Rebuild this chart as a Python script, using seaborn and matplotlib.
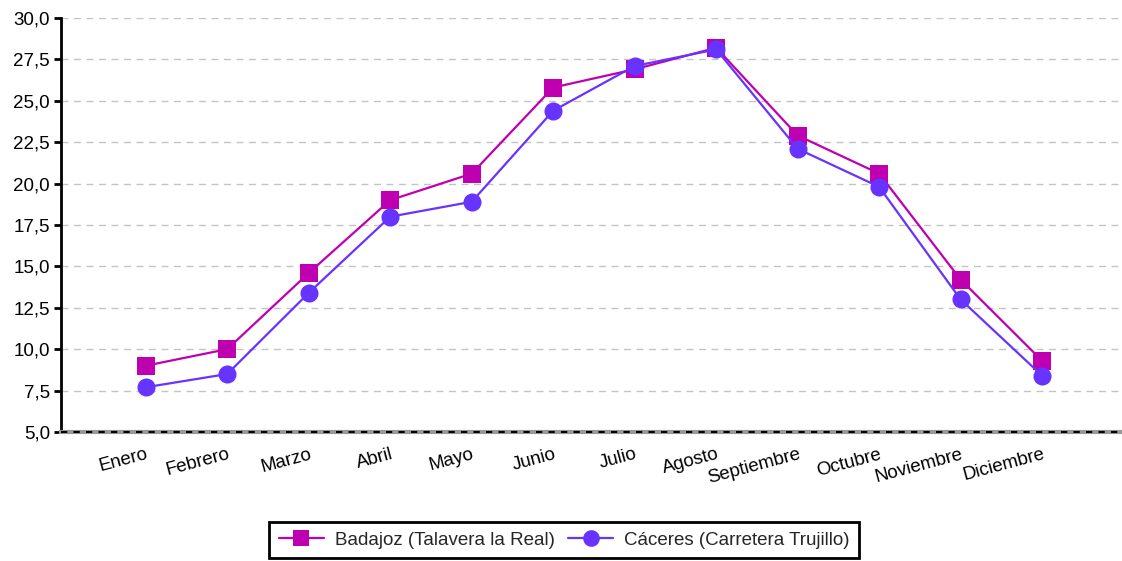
import matplotlib
matplotlib.use("Agg")
import matplotlib.pyplot as plt
import seaborn as sns
import pandas as pd
from matplotlib.ticker import FuncFormatter, MultipleLocator

months = ["Enero", "Febrero", "Marzo", "Abril", "Mayo", "Junio", "Julio",
          "Agosto", "Septiembre", "Octubre", "Noviembre", "Diciembre"]
badajoz = [9.0, 10.0, 14.6, 19.0, 20.6, 25.8, 26.9, 28.2, 22.9, 20.6, 14.2, 9.3]
caceres = [7.7, 8.5, 13.4, 18.0, 18.9, 24.4, 27.1, 28.1, 22.1, 19.8, 13.0, 8.4]
series_names = ["Badajoz (Talavera la Real)", "Cáceres (Carretera Trujillo)"]
colors = ["#BF00B0", "#6633FF"]

df = pd.DataFrame({
    "Mes": months * 2,
    "Temp": badajoz + caceres,
    "Serie": [series_names[0]] * 12 + [series_names[1]] * 12,
})

sns.set_theme(style="white")
plt.rcParams["font.family"] = ["Liberation Sans", "DejaVu Sans"]

fig = plt.figure(figsize=(11.22, 5.61), dpi=100)
ax = fig.add_axes([0.0544, 0.23, 0.9456, 0.738])

sns.lineplot(data=df, x="Mes", y="Temp", hue="Serie", style="Serie",
             palette=dict(zip(series_names, colors)),
             markers={series_names[0]: "s", series_names[1]: "o"},
             dashes=False, sort=False, ax=ax, linewidth=1.6,
             markersize=13, markeredgewidth=0, legend=True)

ax.set_ylim(5, 30)
ax.set_xlim(-1.04, 11.98)
ax.yaxis.set_major_locator(MultipleLocator(2.5))
ax.yaxis.set_major_formatter(FuncFormatter(lambda v, p: f"{v:.1f}".replace(".", ",")))
ax.grid(axis="y", color="#c4c4c4", linestyle=(0, (5, 4)), linewidth=1)
ax.grid(axis="x", visible=False)
ax.set_axisbelow(True)

for s in ["top", "right"]:
    ax.spines[s].set_visible(False)
ax.spines["left"].set_color("black")
ax.spines["left"].set_linewidth(2)
ax.spines["bottom"].set_color("#999999")
ax.spines["bottom"].set_linewidth(3)
ax.axhline(5, color="black", linestyle=(0, (3, 3)), linewidth=1.5, clip_on=False, zorder=5)

ax.set_xlabel("")
ax.set_ylabel("")
ax.tick_params(axis="y", left=True, length=5, width=2, color="black",
               labelsize=13.5, labelcolor="black", pad=3)
ax.tick_params(axis="x", bottom=False, labelsize=13.5, labelcolor="black", pad=4)
for lab in ax.get_xticklabels():
    lab.set_rotation(15)
    lab.set_ha("right")
    lab.set_rotation_mode("anchor")

handles, labels = ax.get_legend_handles_labels()
leg = ax.legend(handles, labels, loc="center", bbox_to_anchor=(0.503, 0.0374),
                bbox_transform=fig.transFigure, ncol=2, frameon=True,
                fancybox=False, edgecolor="black", framealpha=1, fontsize=13.5,
                handlelength=2.4, columnspacing=0.7, handletextpad=0.6,
                borderpad=0.5, borderaxespad=0)
leg.get_frame().set_linewidth(2)
for h in leg.legend_handles:
    h.set_markersize(12)

fig.savefig("out.png", dpi=100)
